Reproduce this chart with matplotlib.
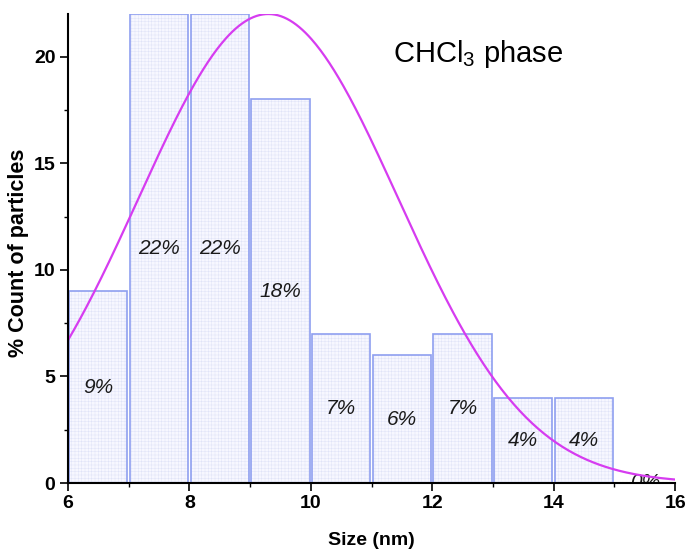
import numpy as np
import matplotlib
matplotlib.use("Agg")
import matplotlib.pyplot as plt
from matplotlib.ticker import MultipleLocator

plt.rcParams['font.family'] = ['Liberation Sans', 'DejaVu Sans']
plt.rcParams['mathtext.fontset'] = 'custom'
plt.rcParams['mathtext.rm'] = 'Liberation Sans'
plt.rcParams['hatch.linewidth'] = 0.35

# Histogram of particle sizes (bin left edges in nm, % of particles)
bin_left = [6, 7, 8, 9, 10, 11, 12, 13, 14, 15]
percent = [9, 22, 22, 18, 7, 6, 7, 4, 4, 0]
bar_labels = ["9%", "22%", "22%", "18%", "7%", "6%", "7%", "4%", "4%", "0%"]

# Gaussian fit parameters: amplitude (%), centre (nm), width (nm)
fit_amp = 22.0
fit_center = 9.3
fit_sigma = 2.14

fig = plt.figure(figsize=(6.88, 5.52), dpi=100)
ax = fig.add_axes([0.0988, 0.125, 0.8825, 0.8496])

centers = np.array(bin_left) + 0.5
# grid-patterned fill
ax.bar(centers, percent, width=0.96, color='#f7f7ff', edgecolor='#e0e3f8',
       linewidth=0, hatch='+++++', zorder=1)
# outlines
ax.bar(centers, percent, width=0.96, facecolor='none', edgecolor='#8f9ff0',
       linewidth=1.2, zorder=2)

for c, v, lab in zip(centers, percent, bar_labels):
    ax.text(c, v / 2, lab, ha='center', va='center', fontsize=15,
            style='italic', color='#1a1a1a', zorder=3, clip_on=True)

xs = np.linspace(6, 16, 400)
ax.plot(xs, fit_amp * np.exp(-(xs - fit_center) ** 2 / (2 * fit_sigma ** 2)),
        color='#d63cf0', linewidth=1.6, zorder=4)

ax.set_xlim(6, 16)
ax.set_ylim(0, 22)
ax.xaxis.set_major_locator(MultipleLocator(2))
ax.xaxis.set_minor_locator(MultipleLocator(1))
ax.yaxis.set_major_locator(MultipleLocator(5))
ax.yaxis.set_minor_locator(MultipleLocator(2.5))

for s in ['top', 'right']:
    ax.spines[s].set_visible(False)
for s in ['left', 'bottom']:
    ax.spines[s].set_linewidth(1.5)
    ax.spines[s].set_zorder(5)

ax.tick_params(which='major', direction='out', length=6, width=1.2, labelsize=14, pad=3)
ax.tick_params(which='minor', direction='out', length=3, width=1.0)
for lab in ax.get_xticklabels() + ax.get_yticklabels():
    lab.set_fontweight('bold')

ax.set_xlabel('Size (nm)', fontsize=14, fontweight='bold', labelpad=14)
ax.set_ylabel('% Count of particles', fontsize=15.5, fontweight='bold')
ax.yaxis.set_label_coords(-0.064, 0.49)

ax.text(0.535, 0.915, r'CHCl$_\mathregular{3}$ phase', transform=ax.transAxes,
        fontsize=21, ha='left', va='center')

fig.savefig('out.png', dpi=100)
